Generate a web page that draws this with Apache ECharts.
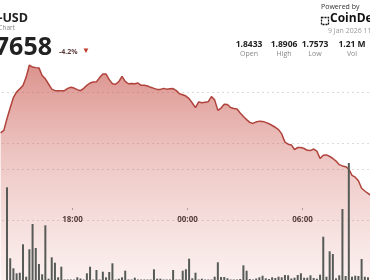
<!DOCTYPE html>
<html><head><meta charset="utf-8">
<script src="https://cdn.jsdelivr.net/npm/echarts@6/dist/echarts.min.js"></script>
<style>html,body{margin:0;padding:0;background:#fff;overflow:hidden}#c{width:370px;height:280px}</style>
</head><body><div id="c"></div>
<script>
// time of first volume bar (hours, 8 Jan), bars every 10 minutes
const startHour = 14 + 35 / 60;
const stepHour = 1 / 6;
// price series starts two steps before the first bar
const priceLead = 2;
const prices = [
  1.8641, 1.8651, 1.8697, 1.8739, 1.8779, 1.8801, 1.8813, 1.8826, 1.8859, 1.8906,
  1.8898, 1.8896, 1.8895, 1.8865, 1.8852, 1.8832, 1.8812, 1.8806, 1.8806, 1.8806,
  1.8806, 1.8815, 1.8819, 1.8816, 1.8810, 1.8806, 1.8815, 1.8827, 1.8836, 1.8840,
  1.8841, 1.8857, 1.8871, 1.8871, 1.8849, 1.8833, 1.8831, 1.8841, 1.8862, 1.8842,
  1.8833, 1.8834, 1.8833, 1.8836, 1.8827, 1.8827, 1.8824, 1.8819, 1.8815, 1.8811,
  1.8811, 1.8815, 1.8812, 1.8813, 1.8814, 1.8806, 1.8794, 1.8790, 1.8785, 1.8775,
  1.8758, 1.8740, 1.8762, 1.8759, 1.8761, 1.8763, 1.8783, 1.8770, 1.8729, 1.8738,
  1.8753, 1.8752, 1.8740, 1.8736, 1.8734, 1.8719, 1.8705, 1.8693, 1.8682, 1.8678,
  1.8684, 1.8687, 1.8686, 1.8682, 1.8677, 1.8670, 1.8663, 1.8654, 1.8637, 1.8605,
  1.8597, 1.8594, 1.8576, 1.8584, 1.8584, 1.8580, 1.8573, 1.8572, 1.8578, 1.8570,
  1.8541, 1.8554, 1.8555, 1.8549, 1.8541, 1.8531, 1.8517, 1.8512, 1.8509, 1.8500,
  1.8475, 1.8468, 1.8454, 1.8425, 1.8414, 1.8405, 1.8396, 1.8391, 1.8383
];
// volume per 10-minute bar (thousands)
const volumes = [
  92.7, 21.7, 11.7, 6.7, 7.3, 35.7, 3.3, 30.7, 56, 32,
  16, 5.7, 54.7, 1.3, 22.7, 17.3, 2.7, 13.3, 0.5, 0.5,
  0.5, 0.5, 2.7, 1.5, 0.5, 6.7, 13.3, 0.5, 10, 0.5,
  8.3, 2.7, 8, 16.7, 0.5, 1.3, 2.7, 9.3, 0.5, 0.5,
  2.3, 0.5, 0.5, 0.5, 0.5, 0.5, 10.7, 1.3, 1.3, 0.5,
  0.5, 0.5, 10, 0.5, 0.5, 9.3, 10.7, 21.3, 1.7, 7.3,
  0.5, 1.3, 0.5, 0.5, 0.5, 3.3, 17.7, 3, 3, 1.7,
  0.5, 0.5, 0.5, 1, 14.7, 9.3, 1, 0.5, 1.5, 2.7,
  4.3, 1.7, 1, 2.7, 2, 3.3, 2.7, 5, 4.7, 1.5,
  2.3, 5, 6.7, 2.3, 2.3, 4.7, 2, 1.3, 5.3, 43.3,
  3.3, 28.7, 26, 1.7, 4.7, 71, 4, 117, 3.3, 4.3,
  4, 21, 3.3, 2.7, 3
];
const gridPrices = [1.875, 1.85625, 1.8496, 1.8285];
const statValues = ['1.8433', '1.8906', '1.7573', '1.21 M'];
const statLabels = ['Open', 'High', 'Low', 'Vol'];
const titleText = 'XRP-USD';
const subtitleText = 'XRP Price Chart';
const lastPrice = '1.7658';
const changeText = '-4.2%';
const dateText = '9 Jan 2026 11:00 UTC';

const F = '"Open Sans", "Noto Sans", sans-serif';
const priceData = prices.map((p, j) => [startHour + (j - priceLead) * stepHour, p]);
const volData = volumes.map((v, i) => [startHour + i * stepHour, v]);
const hourFmt = v => String(((v % 24) + 24) % 24).padStart(2, '0') + ':00';

const statX = [249, 284, 315, 352];
const graphics = [
  { type: 'text', right: 370 - 28, top: 12, style: { text: titleText, font: 'bold 12.5px ' + F, fill: '#222' } },
  { type: 'text', right: 370 - 15, top: 25, style: { text: subtitleText, font: '6.5px ' + F, fill: '#888' } },
  { type: 'text', right: 370 - 52, top: 35, style: { text: lastPrice, font: 'bold 25px ' + F, fill: '#222' } },
  { type: 'text', left: 59, top: 48, style: { text: changeText, font: 'bold 7px ' + F, fill: '#5a3a3a' } },
  { type: 'text', left: 82, top: 47, style: { text: '▼', font: '8px ' + F, fill: '#c0392b' } },
  { type: 'text', left: 321, top: 3, style: { text: 'Powered by', font: '7px ' + F, fill: '#333' } },
  { type: 'rect', shape: { x: 321.5, y: 17.5, width: 7, height: 7 }, style: { fill: 'none', stroke: '#111', lineWidth: 1.3, lineDash: [2, 1] } },
  { type: 'text', left: 330, top: 13, style: { text: 'CoinDesk', font: 'bold 12px ' + F, fill: '#111' } },
  { type: 'text', left: 328, top: 27, style: { text: dateText, font: '7px ' + F, fill: '#999' } }
];
statValues.forEach((v, k) => {
  graphics.push({ type: 'text', x: statX[k], y: 45, style: { text: v, font: 'bold 8.5px ' + F, fill: '#222', align: 'center', verticalAlign: 'middle' } });
  graphics.push({ type: 'text', x: statX[k], y: 54, style: { text: statLabels[k], font: '7px ' + F, fill: '#888', align: 'center', verticalAlign: 'middle' } });
});

const chart = echarts.init(document.getElementById('c'), null, { renderer: 'canvas' });
chart.setOption({
  animation: false,
  backgroundColor: '#fff',
  grid: [
    { left: -42.5, right: -47.5, top: -87, bottom: -145, outerBoundsMode: 'none', containLabel: false },
    { left: -42.5, right: -47.5, top: 80, bottom: 0, outerBoundsMode: 'none', containLabel: false },
    { left: -42.5, right: -47.5, top: 200, height: 8, outerBoundsMode: 'none', containLabel: false }
  ],
  xAxis: [
    { type: 'value', gridIndex: 0, min: 12, max: 36, interval: 6, show: false },
    { type: 'value', gridIndex: 1, min: 12, max: 36, interval: 6, show: false },
    { type: 'value', gridIndex: 2, min: 12, max: 36, interval: 6,
      axisLine: { show: false }, splitLine: { show: false },
      axisTick: { show: true, length: 2, lineStyle: { color: '#aaa' } },
      axisLabel: { margin: 8, fontSize: 8, fontWeight: 'bold', color: '#333', fontFamily: F, formatter: hourFmt } }
  ],
  yAxis: [
    { type: 'value', gridIndex: 0, min: 1.75, max: 1.95, show: false, splitLine: { show: false } },
    { type: 'value', gridIndex: 1, min: 0, max: 200, show: false, splitLine: { show: false } },
    { type: 'value', gridIndex: 2, show: false }
  ],
  graphic: graphics,
  series: [
    {
      type: 'line', xAxisIndex: 0, yAxisIndex: 0, data: priceData,
      showSymbol: false, z: 2,
      lineStyle: { color: '#b0433b', width: 1.5 },
      areaStyle: {
        color: new echarts.graphic.LinearGradient(0, 0, 0, 1, [
          { offset: 0, color: 'rgba(192,62,52,0.8)' },
          { offset: 0.25, color: 'rgba(200,80,70,0.47)' },
          { offset: 0.6, color: 'rgba(215,110,100,0.14)' },
          { offset: 1, color: 'rgba(225,140,130,0.05)' }
        ])
      },
      markLine: {
        silent: true, symbol: 'none', z: 1,
        label: { show: false },
        lineStyle: { type: [1, 4], color: '#b8b8b8', width: 1 },
        data: gridPrices.map(v => ({ yAxis: v }))
      }
    },
    {
      type: 'bar', xAxisIndex: 1, yAxisIndex: 1, data: volData,
      barWidth: 2, z: 3,
      itemStyle: { color: '#565b57' }
    }
  ]
});
</script></body></html>
